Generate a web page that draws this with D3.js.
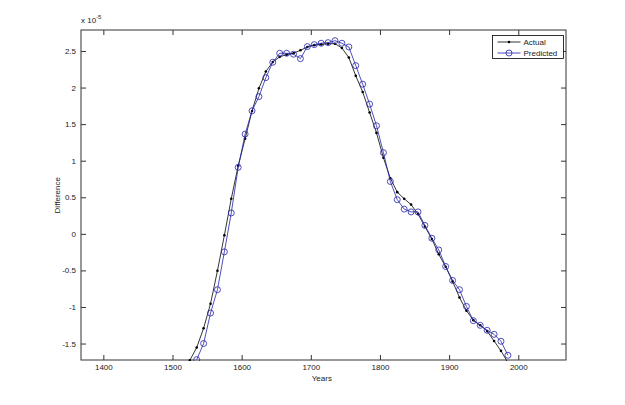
<!DOCTYPE html>
<html>
<head>
<meta charset="utf-8">
<script src="https://cdn.jsdelivr.net/npm/d3@7"></script>
<style>
  body { margin: 0; background: #fff; }
  text { font-family: "Liberation Sans", Arial, sans-serif; font-size: 8px; fill: #222; }
</style>
</head>
<body>
<script>
// data (values x 1e-5)
const actualYears = d3.range(1525, 1986, 10);
const actualVals = [-1.73, -1.555, -1.29, -0.955, -0.505, -0.02, 0.48, 0.93, 1.30, 1.68,
  1.99, 2.22, 2.35, 2.42, 2.45, 2.47, 2.51, 2.555, 2.58, 2.59,
  2.60, 2.60, 2.54, 2.41, 2.16, 1.94, 1.66, 1.38, 1.04, 0.76,
  0.57, 0.48, 0.40, 0.27, 0.10, -0.07, -0.28, -0.45, -0.65, -0.87,
  -1.05, -1.18, -1.25, -1.33, -1.465, -1.60, -1.76];
const predYears = d3.range(1535, 1986, 10);
const predVals = [-1.72, -1.50, -1.083, -0.764, -0.246, 0.286, 0.909, 1.364, 1.682, 1.877,
  2.136, 2.346, 2.469, 2.469, 2.456, 2.396, 2.56, 2.587, 2.606, 2.614,
  2.641, 2.606, 2.555, 2.30, 2.046, 1.774, 1.477, 1.11, 0.716, 0.467,
  0.338, 0.30, 0.30, 0.115, -0.06, -0.22, -0.446, -0.637, -0.764, -0.992,
  -1.187, -1.251, -1.319, -1.374, -1.469, -1.66];
const xTicks = [1400, 1500, 1600, 1700, 1800, 1900, 2000];
const yTicks = [-1.5, -1, -0.5, 0, 0.5, 1, 1.5, 2, 2.5];

const actual = actualYears.map((y, i) => ({ year: y, v: actualVals[i] }));
const predicted = predYears.map((y, i) => ({ year: y, v: predVals[i] }));

const margin = { top: 30, right: 59, bottom: 45, left: 81 };
const W = 625, H = 405;
const width = W - margin.left - margin.right,
      height = H - margin.top - margin.bottom;

const x = d3.scaleLinear().domain([1367.7, 2069]).range([0, width]);
const y = d3.scaleLinear().domain([-1.725, 2.787]).range([height, 0]);

const svg = d3.select("body").append("svg")
  .attr("width", W).attr("height", H)
  .append("g")
  .attr("transform", "translate(" + margin.left + "," + margin.top + ")");

svg.append("clipPath").attr("id", "clip")
  .append("rect").attr("x", 0).attr("y", -2).attr("width", width).attr("height", height + 3);

// axes, MATLAB style ticks pointing inward on all sides
const fmt = d => String(d);
const axisCol = "#333";
function styleAxis(g) {
  g.select(".domain").remove();
  g.selectAll(".tick line").attr("stroke", axisCol);
}
svg.append("g").attr("transform", "translate(0," + height + ")")
  .call(d3.axisBottom(x).tickValues(xTicks).tickSize(-5).tickPadding(4).tickFormat(fmt))
  .call(styleAxis)
  .selectAll("text").style("font-size", "8px");
svg.append("g")
  .call(d3.axisTop(x).tickValues(xTicks).tickSize(-5).tickFormat(""))
  .call(styleAxis);
svg.append("g")
  .call(d3.axisLeft(y).tickValues(yTicks).tickSize(-5).tickPadding(5).tickFormat(fmt))
  .call(styleAxis)
  .selectAll("text").style("font-size", "8px");
svg.append("g").attr("transform", "translate(" + width + ",0)")
  .call(d3.axisRight(y).tickValues(yTicks).tickSize(-5).tickFormat(""))
  .call(styleAxis);

svg.append("rect").attr("width", width).attr("height", height)
  .attr("fill", "none").attr("stroke", axisCol).attr("stroke-width", 1);

svg.selectAll("text").attr("fill", "#222");

// multiplier label
const mult = svg.append("text").attr("x", 0).attr("y", -7);
mult.append("tspan").text("x 10");
mult.append("tspan").attr("dy", -4).style("font-size", "6px").text("-5");

// axis titles
svg.append("text").attr("x", x(1700) + 11).attr("y", height + 21)
  .attr("text-anchor", "middle").text("Years");
svg.append("text")
  .attr("transform", "translate(-21," + (y(0.5) - 2) + ") rotate(-90)")
  .attr("text-anchor", "middle").text("Difference");

// series
const line = d3.line().x(d => x(d.year)).y(d => y(d.v));
const blue = "#2222a8";
const plot = svg.append("g").attr("clip-path", "url(#clip)");

plot.append("path").datum(actual)
  .attr("d", line).attr("fill", "none").attr("stroke", "#000").attr("stroke-width", 0.8);
plot.selectAll(".dot").data(actual).enter().append("circle")
  .attr("cx", d => x(d.year)).attr("cy", d => y(d.v)).attr("r", 1.3).attr("fill", "#000");

plot.append("path").datum(predicted)
  .attr("d", line).attr("fill", "none").attr("stroke", blue).attr("stroke-width", 0.8);
plot.selectAll(".circ").data(predicted).enter().append("circle")
  .attr("cx", d => x(d.year)).attr("cy", d => y(d.v)).attr("r", 3)
  .attr("fill", "none").attr("stroke", blue).attr("stroke-width", 0.8);

// legend
const lg = svg.append("g").attr("transform", "translate(" + (492.5 - margin.left) + "," + (35.5 - margin.top) + ")");
lg.append("rect").attr("width", 71).attr("height", 23)
  .attr("fill", "#fff").attr("stroke", "#000").attr("stroke-width", 0.8);
lg.append("line").attr("x1", 5).attr("x2", 28).attr("y1", 6.5).attr("y2", 6.5)
  .attr("stroke", "#000").attr("stroke-width", 0.8);
lg.append("circle").attr("cx", 16.5).attr("cy", 6.5).attr("r", 1.3).attr("fill", "#000");
lg.append("text").attr("x", 31).attr("y", 9.5).text("Actual");
lg.append("line").attr("x1", 5).attr("x2", 28).attr("y1", 17.5).attr("y2", 17.5)
  .attr("stroke", blue).attr("stroke-width", 0.8);
lg.append("circle").attr("cx", 16.5).attr("cy", 17.5).attr("r", 3)
  .attr("fill", "none").attr("stroke", blue).attr("stroke-width", 0.8);
lg.append("text").attr("x", 31).attr("y", 20.5).text("Predicted");
</script>
</body>
</html>
